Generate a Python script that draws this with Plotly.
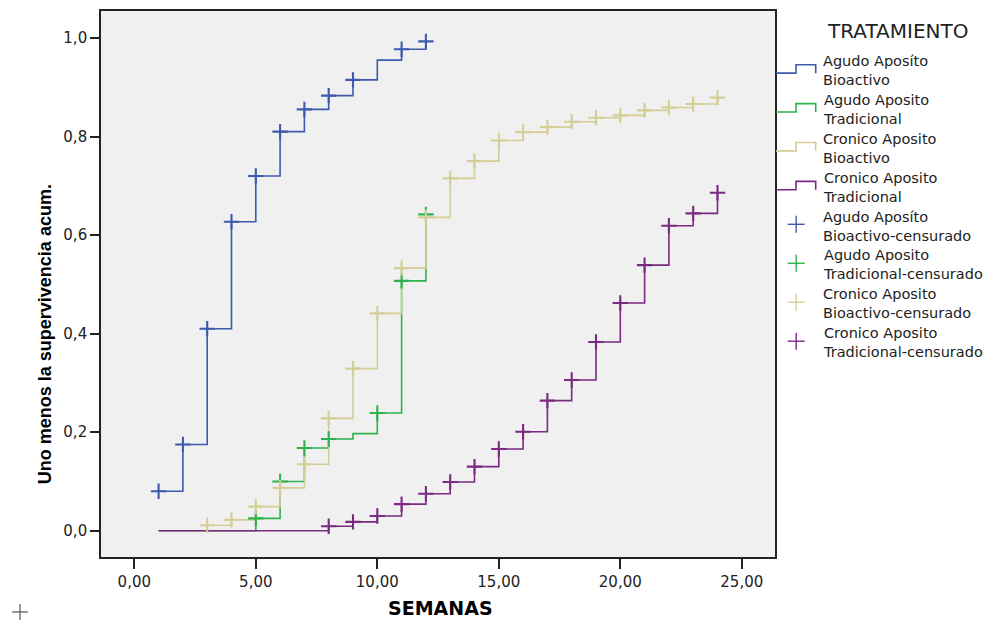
import plotly.graph_objects as go

# ---------------- data ----------------
weeks_ab = [1, 2, 3, 4, 5, 6, 7, 8, 9, 10, 11, 12]
cum_ab = [0.080, 0.175, 0.410, 0.627, 0.720, 0.810, 0.855, 0.883, 0.915, 0.955, 0.977, 0.993]
cens_ab = [1, 2, 3, 4, 5, 6, 7, 8, 9, 11, 12]

weeks_at = [1, 5, 6, 7, 8, 9, 10, 11, 12]
cum_at = [0.0, 0.025, 0.100, 0.168, 0.186, 0.197, 0.239, 0.507, 0.642]
cens_at = [5, 6, 7, 8, 10, 11, 12]

weeks_cb = [1, 3, 4, 5, 6, 7, 8, 9, 10, 11, 12, 13, 14, 15, 16, 17, 18, 19, 20, 21, 22, 23, 24]
cum_cb = [0.0, 0.011, 0.022, 0.049, 0.087, 0.135, 0.228, 0.329, 0.441, 0.533, 0.636, 0.715,
          0.750, 0.792, 0.809, 0.819, 0.830, 0.838, 0.843, 0.853, 0.859, 0.866, 0.879]
cens_cb = [3, 4, 5, 6, 7, 8, 9, 10, 11, 12, 13, 14, 15, 16, 17, 18, 19, 20, 21, 22, 23, 24]

weeks_ct = [1, 8, 9, 10, 11, 12, 13, 14, 15, 16, 17, 18, 19, 20, 21, 22, 23, 24]
cum_ct = [0.0, 0.009, 0.018, 0.030, 0.054, 0.075, 0.099, 0.130, 0.166, 0.201, 0.264, 0.306,
          0.383, 0.462, 0.539, 0.619, 0.644, 0.686]
cens_ct = [8, 9, 10, 11, 12, 13, 14, 15, 16, 17, 18, 19, 20, 21, 22, 23, 24]

group_line1 = ["Agudo Aposíto", "Agudo Aposito", "Cronico Aposito", "Cronico Aposito"]
group_line2 = ["Bioactivo", "Tradicional", "Bioactivo", "Tradicional"]
x_ticks = [0, 5, 10, 15, 20, 25]
y_ticks = [0.0, 0.2, 0.4, 0.6, 0.8, 1.0]

colors = ["#3F5AAD", "#2DB34B", "#D4CE96", "#7A2A80"]

series = [
    (weeks_ab, cum_ab, cens_ab),
    (weeks_at, cum_at, cens_at),
    (weeks_cb, cum_cb, cens_cb),
    (weeks_ct, cum_ct, cens_ct),
]

# ---------------- layout geometry (pixels, in page coordinates) ----------------
OFF = 8  # default page body margin
W, H = 997 - OFF, 624 - OFF
L, R, T, B = 101, 775, 10.5, 557
PW, PH = R - L, B - T


def px(xp):
    return (xp - L) / PW


def py(yp):
    return (B - yp) / PH


fig = go.Figure()

for (wk, cum, cens), col in zip(series, colors):
    fig.add_trace(go.Scatter(x=wk, y=cum, mode="lines", line=dict(color=col, width=1.6, shape="hv"),
                             showlegend=False, hoverinfo="skip"))

for (wk, cum, cens), col in zip(series, colors):
    cy = [cum[wk.index(t)] for t in cens]
    fig.add_trace(go.Scatter(x=cens, y=cy, mode="markers",
                             marker=dict(symbol="cross-thin", size=11, color=col,
                                         line=dict(color=col, width=2.1)),
                             showlegend=False, hoverinfo="skip"))

# ---------------- manual legend ----------------
shapes = []
ann = []
ann.append(dict(x=px(898), y=py(31), xref="paper", yref="paper", text="TRATAMIENTO",
                showarrow=False, xanchor="center", yanchor="middle",
                font=dict(family="DejaVu Sans", size=20, color="#222222")))
step = 38.9
for i in range(8):
    g = i % 4
    col = colors[g]
    yc = 70.2 + step * i
    t2 = group_line2[g] + ("-censurado" if i >= 4 else "")
    ann.append(dict(x=px(821), y=py(yc), xref="paper", yref="paper",
                    text=group_line1[g] + "<br>" + t2, align="left",
                    showarrow=False, xanchor="left", yanchor="middle",
                    font=dict(family="DejaVu Sans", size=14.5, color="#222222")))
    if i < 4:
        lo = 72.7 + step * i
        hi = 64.3 + step * i
        path = (f"M {px(776)},{py(lo)} L {px(796)},{py(lo)} L {px(796)},{py(hi)} "
                f"L {px(815.7)},{py(hi)} L {px(815.7)},{py(lo)}")
        shapes.append(dict(type="path", path=path, xref="paper", yref="paper",
                           line=dict(color=col, width=1.6)))
    else:
        cx, cyy = 796.2, 224 + 39 * (i - 4)
        shapes.append(dict(type="line", xref="paper", yref="paper", x0=px(cx - 8.5), x1=px(cx + 8.5),
                           y0=py(cyy), y1=py(cyy), line=dict(color=col, width=1.4)))
        shapes.append(dict(type="line", xref="paper", yref="paper", x0=px(cx), x1=px(cx),
                           y0=py(cyy - 8.5), y1=py(cyy + 8.5), line=dict(color=col, width=1.4)))

# stray plus glyph at lower left
sx, sy = 20, 612
shapes.append(dict(type="line", xref="paper", yref="paper", x0=px(sx - 8), x1=px(sx + 8),
                   y0=py(sy), y1=py(sy), line=dict(color="#555555", width=1.2)))
shapes.append(dict(type="line", xref="paper", yref="paper", x0=px(sx), x1=px(sx),
                   y0=py(sy - 8), y1=py(sy + 8), line=dict(color="#555555", width=1.2)))

# axis titles
ann.append(dict(x=px(440), y=py(608), xref="paper", yref="paper", text="<b>SEMANAS</b>",
                showarrow=False, xanchor="center", yanchor="middle",
                font=dict(family="DejaVu Sans", size=19, color="#000000")))
ann.append(dict(x=px(45), y=py(334), xref="paper", yref="paper",
                text="<b>Uno menos la supervivencia acum.</b>", textangle=-90,
                showarrow=False, xanchor="center", yanchor="middle",
                font=dict(family="Liberation Sans", size=18, color="#000000")))

x0_val, ppu_x = 134.3, 24.3
y0_px, ppu_y = 530.7, 493.2

fig.update_layout(
    width=W, height=H,
    margin=dict(l=L - OFF, r=997 - R, t=T - OFF, b=624 - B, autoexpand=False),
    paper_bgcolor="white", plot_bgcolor="#F0F0F0",
    separators=",.",
    shapes=shapes, annotations=ann,
    showlegend=False,
    xaxis=dict(range=[(L - x0_val) / ppu_x, (R - x0_val) / ppu_x], tickvals=x_ticks,
               tickformat=".2f", showgrid=False, zeroline=False,
               showline=True, linecolor="#222222", linewidth=1.6, mirror=True,
               ticks="outside", ticklen=10, tickwidth=1.5, tickcolor="#222222",
               tickfont=dict(family="DejaVu Sans", size=15, color="#222222")),
    yaxis=dict(range=[(y0_px - B) / ppu_y, (y0_px - T) / ppu_y], tickvals=y_ticks,
               tickformat=".1f", showgrid=False, zeroline=False,
               showline=True, linecolor="#222222", linewidth=1.6, mirror=True,
               ticks="outside", ticklen=9, tickwidth=1.5, tickcolor="#222222",
               tickfont=dict(family="DejaVu Sans", size=15, color="#222222")),
)

fig.write_html("out.html")
